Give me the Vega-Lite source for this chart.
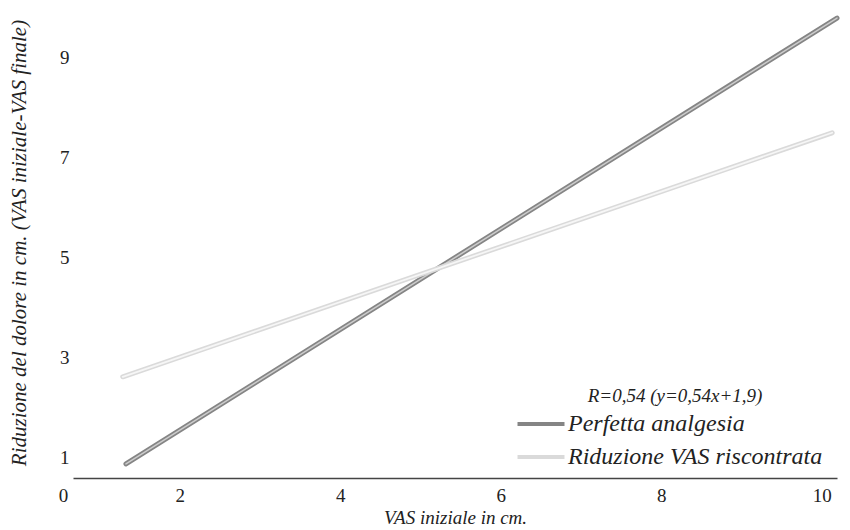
{
  "$schema": "https://vega.github.io/schema/vega-lite/v6.json",
  "width": 764,
  "height": 471,
  "autosize": {"type": "none"},
  "padding": {"left": 73, "top": 7, "right": 13, "bottom": 52},
  "background": "white",
  "config": {
    "view": {"stroke": null},
    "font": "'Liberation Serif', 'DejaVu Serif', serif",
    "axis": {"grid": false, "ticks": false, "labelFont": "'Liberation Serif', 'DejaVu Serif', serif", "titleFont": "'Liberation Serif', 'DejaVu Serif', serif", "labelColor": "#222", "titleColor": "#222", "titleFontWeight": "normal", "titleFontStyle": "italic"}
  },
  "data": {
    "values": [
      {"serie": "Perfetta analgesia", "x": 1.33, "y": 0.88},
      {"serie": "Perfetta analgesia", "x": 10.19, "y": 9.78},
      {"serie": "Riduzione VAS riscontrata", "x": 1.29, "y": 2.62},
      {"serie": "Riduzione VAS riscontrata", "x": 10.13, "y": 7.49}
    ]
  },
  "encoding": {
    "x": {
      "field": "x", "type": "quantitative",
      "scale": {"domain": [0.67, 10.19], "nice": false, "zero": false},
      "axis": {
        "values": [0.67, 2, 4, 6, 8, 10],
        "labelExpr": "datum.value < 1 ? '0' : datum.label",
        "labelFlush": false,
        "labelOffset": {"condition": {"test": "datum.value < 1", "value": -10}, "value": 0},
        "labelFontSize": 19,
        "labelPadding": 8,
        "domainColor": "#444",
        "domainWidth": 1.5,
        "title": "VAS iniziale in cm.",
        "titleFontSize": 19,
        "titlePadding": 3
      }
    },
    "y": {
      "field": "y", "type": "quantitative",
      "scale": {"domain": [0.6, 10.0], "nice": false, "zero": false},
      "axis": {
        "values": [1, 3, 5, 7, 9],
        "domain": false,
        "labelFontSize": 19,
        "labelPadding": 4,
        "title": "Riduzione del dolore in cm. (VAS iniziale-VAS finale)",
        "titleFontSize": 21,
        "titlePadding": 30
      }
    }
  },
  "layer": [
    {
      "transform": [{"filter": "datum.serie == 'Perfetta analgesia'"}],
      "mark": {"type": "line", "strokeWidth": 5, "strokeCap": "round"},
      "encoding": {
        "color": {
          "field": "serie", "type": "nominal",
          "scale": {"domain": ["Perfetta analgesia", "Riduzione VAS riscontrata"], "range": ["#858585", "#dadada"]},
          "legend": {
            "orient": "none", "legendX": 454, "legendY": 380,
            "title": "R=0,54 (y=0,54x+1,9)",
            "titleFont": "'Liberation Serif', 'DejaVu Serif', serif", "titleFontStyle": "italic", "titleFontWeight": "normal", "titleFontSize": 19, "titleColor": "#222",
            "titleAnchor": "middle", "titlePadding": 4,
            "symbolType": "M-2,0H2", "symbolSize": 552, "symbolStrokeWidth": 4,
            "labelFont": "'Liberation Serif', 'DejaVu Serif', serif", "labelFontStyle": "italic", "labelFontSize": 24, "labelColor": "#222", "labelOffset": 13, "labelLimit": 0,
            "rowPadding": 7
          }
        }
      }
    },
    {
      "transform": [{"filter": "datum.serie == 'Perfetta analgesia'"}],
      "mark": {"type": "line", "strokeWidth": 1.5, "strokeCap": "round", "color": "#cccccc"},
      "encoding": {}
    },
    {
      "transform": [{"filter": "datum.serie == 'Riduzione VAS riscontrata'"}],
      "mark": {"type": "line", "strokeWidth": 5, "strokeCap": "round"},
      "encoding": {"color": {"field": "serie", "type": "nominal"}}
    },
    {
      "transform": [{"filter": "datum.serie == 'Riduzione VAS riscontrata'"}],
      "mark": {"type": "line", "strokeWidth": 1.8, "strokeCap": "round", "color": "#f6f6f6"},
      "encoding": {}
    }
  ]
}
